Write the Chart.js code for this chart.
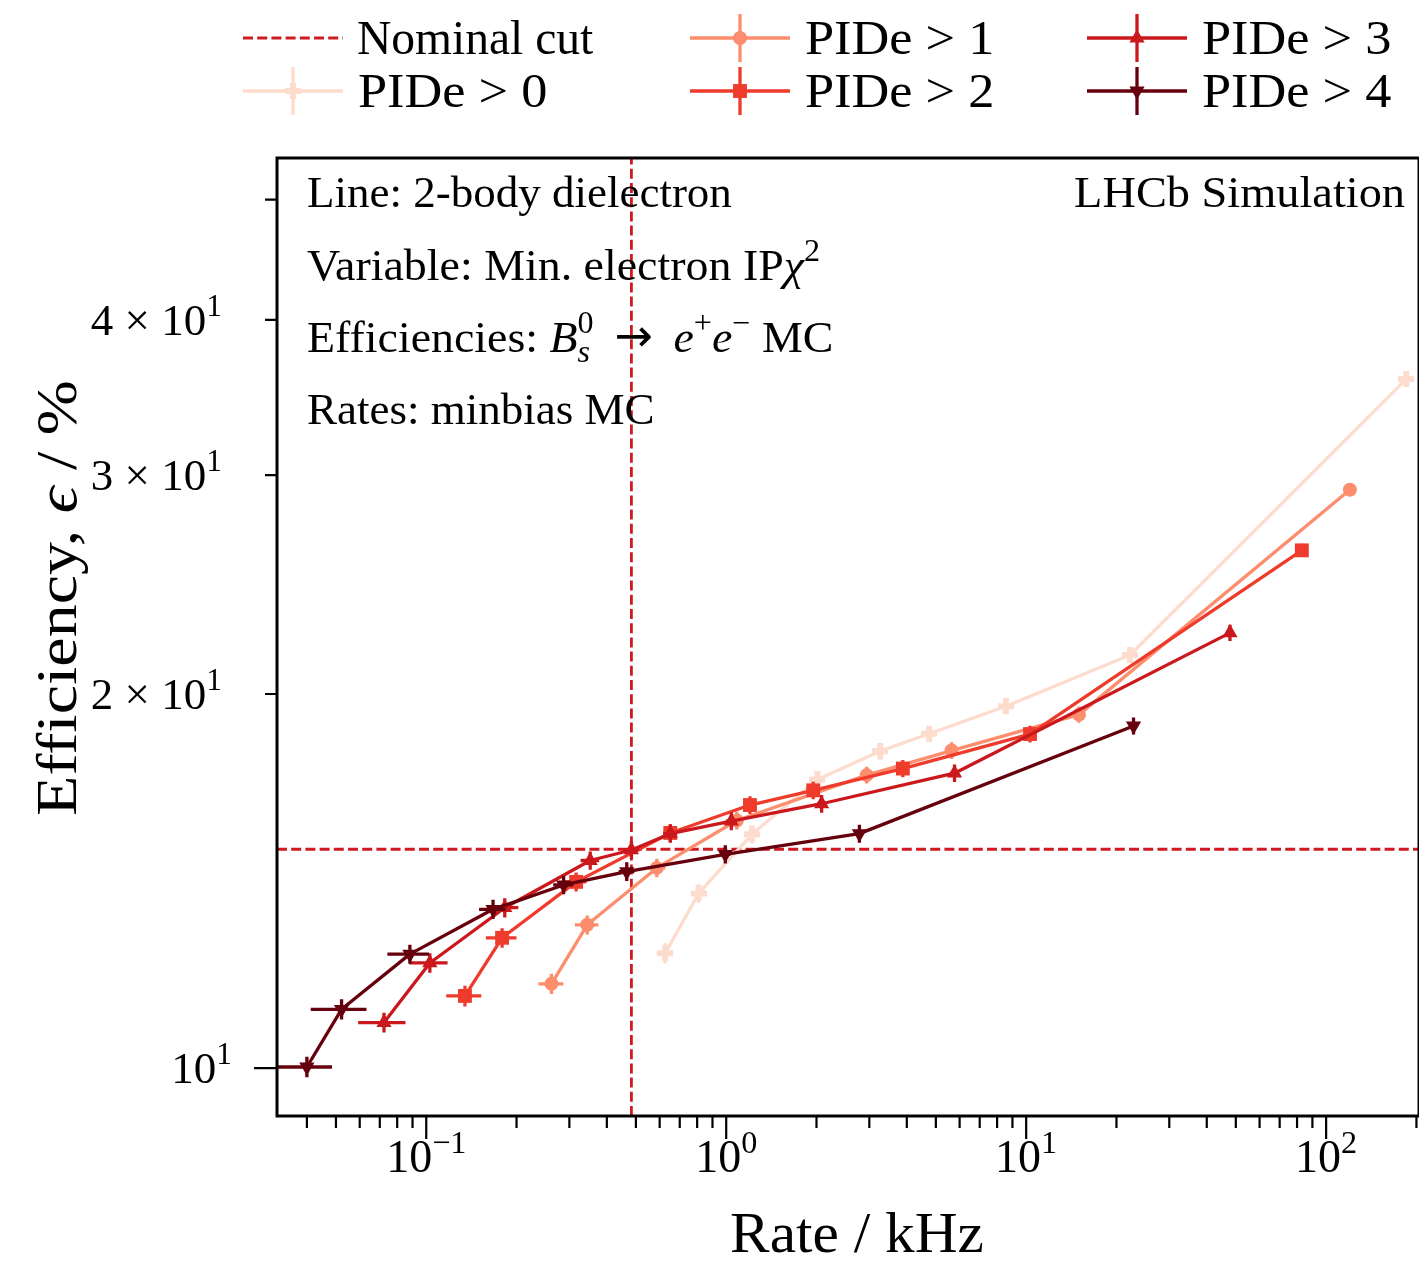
<!DOCTYPE html>
<html>
<head>
<title>Rate vs efficiency - 2-body dielectron</title>
<script src="https://cdn.jsdelivr.net/npm/chart.js"></script>
<style>
  body { margin: 0; background: #fff; }
  #wrap { width: 1419px; height: 1266px; }
</style>
</head>
<body>
<div id="wrap"><canvas id="myChart" width="1419" height="1266"></canvas></div>
<script>
// rates in kHz, efficiencies in %
const pid0Rate    = [0.626, 0.809, 1.218, 2.015, 3.26, 4.75, 8.56, 22.2, 185];
const pid0Eff     = [12.37, 13.82, 15.42, 17.07, 17.99, 18.58, 19.55, 21.5, 35.85];
const pid0RateErr = [0.04, 0.045, 0.05, 0.06, 0.07, 0.09, 0.12, 0.2, 0.6];
const pid0EffErr  = [0.23, 0.24, 0.26, 0.27, 0.28, 0.28, 0.29, 0.3, 0.35];

const pid1Rate    = [0.2615, 0.344, 0.587, 1.085, 2.94, 5.64, 15.0, 120];
const pid1Eff     = [11.69, 13.04, 14.49, 15.82, 17.21, 18.01, 19.25, 29.2];
const pid1RateErr = [0.025, 0.031, 0.04, 0.05, 0.07, 0.1, 0.16, 0.5];
const pid1EffErr  = [0.22, 0.23, 0.25, 0.26, 0.27, 0.28, 0.29, 0.33];

const pid2Rate    = [0.1346, 0.179, 0.316, 0.651, 1.20, 1.95, 3.88, 10.3, 83];
const pid2Eff     = [11.43, 12.73, 14.12, 15.46, 16.28, 16.73, 17.42, 18.57, 26.1];
const pid2RateErr = [0.018, 0.021, 0.026, 0.034, 0.045, 0.06, 0.08, 0.13, 0.4];
const pid2EffErr  = [0.22, 0.23, 0.25, 0.26, 0.27, 0.27, 0.28, 0.29, 0.32];

const pid3Rate    = [0.0723, 0.1028, 0.1827, 0.352, 0.483, 0.651, 1.04, 2.08, 5.77, 47.8];
const pid3Eff     = [10.88, 12.15, 13.46, 14.69, 14.98, 15.44, 15.8, 16.32, 17.27, 22.4];
const pid3RateErr = [0.013, 0.015, 0.02, 0.025, 0.03, 0.034, 0.043, 0.06, 0.1, 0.3];
const pid3EffErr  = [0.2, 0.22, 0.24, 0.25, 0.25, 0.26, 0.26, 0.27, 0.28, 0.34];

const pid4Rate    = [0.040, 0.0522, 0.0882, 0.167, 0.287, 0.466, 0.993, 2.78, 22.8];
const pid4Eff     = [10.02, 11.15, 12.35, 13.42, 14.04, 14.39, 14.86, 15.44, 18.85];
const pid4RateErr = [0.0085, 0.011, 0.014, 0.017, 0.022, 0.028, 0.04, 0.07, 0.2];
const pid4EffErr  = [0.19, 0.21, 0.22, 0.24, 0.24, 0.25, 0.25, 0.26, 0.3];

const seriesLabels = ['PIDe > 0', 'PIDe > 1', 'PIDe > 2', 'PIDe > 3', 'PIDe > 4'];
const seriesColors = ['#fddccd', '#fc8d6d', '#ef3b2c', '#cb181d', '#67000d'];

// nominal working point
const nominalRate = 0.483;
const nominalEff = 15.0;

// axis ranges and ticks
const xMin = 0.0318, xMax = 204;
const yMin = 9.15, yMax = 54.0;
const xMajorTicks = [0.1, 1, 10, 100];
const xTickExponents = ['\u22121', '0', '1', '2'];
const yMajorTicks = [10];
const yLabelValues = [10, 20, 30, 40];
const yLabelMantissa = ['', '2', '3', '4'];

const FONT = '"Liberation Serif", "DejaVu Serif", serif';
const nomColor = '#cf1b20';

function plusMarker(color, size, arm) {
  const c = document.createElement('canvas');
  c.width = size; c.height = size;
  const g = c.getContext('2d');
  g.fillStyle = color;
  const a = (size - arm) / 2;
  g.fillRect(a, 0, arm, size);
  g.fillRect(0, a, size, arm);
  return c;
}
const plusImg = plusMarker(seriesColors[0], 16, 6);

const rates = [pid0Rate, pid1Rate, pid2Rate, pid3Rate, pid4Rate];
const effs = [pid0Eff, pid1Eff, pid2Eff, pid3Eff, pid4Eff];
const rateErrs = [pid0RateErr, pid1RateErr, pid2RateErr, pid3RateErr, pid4RateErr];
const effErrs = [pid0EffErr, pid1EffErr, pid2EffErr, pid3EffErr, pid4EffErr];
const markers = [
  { style: plusImg, radius: 8, rotation: 0 },
  { style: 'circle', radius: 7, rotation: 0 },
  { style: 'rect', radius: 9.8, rotation: 0 },
  { style: 'triangle', radius: 8.8, rotation: 0 },
  { style: 'triangle', radius: 8.8, rotation: 180 }
];

const datasets = seriesLabels.map((label, i) => ({
  label: label,
  data: rates[i].map((r, j) => ({ x: r, y: effs[i][j] })),
  xErr: rateErrs[i],
  yErr: effErrs[i],
  borderColor: seriesColors[i],
  backgroundColor: seriesColors[i],
  borderWidth: 3.3,
  borderJoinStyle: 'round',
  pointStyle: markers[i].style,
  pointRadius: markers[i].radius,
  pointRotation: markers[i].rotation,
  pointBorderWidth: 0,
  pointBackgroundColor: seriesColors[i],
  tension: 0,
  fill: false,
  order: seriesLabels.length - i
}));

function setFont(ctx, size, italic, family) {
  ctx.font = (italic ? 'italic ' : '') + size + 'px ' + (family || FONT);
}

// rich text: parts are {t, it, pos:'sup'|'sub', font} or stacked {stack, sup, sub, subIt}
function partWidth(ctx, p, size) {
  if (p.stack) {
    setFont(ctx, size * 0.7, false);
    const w1 = ctx.measureText(p.sup).width;
    setFont(ctx, size * 0.7, p.subIt);
    return Math.max(w1, ctx.measureText(p.sub).width);
  }
  setFont(ctx, p.pos ? size * 0.7 : size, p.it, p.font);
  return ctx.measureText(p.t).width;
}

function drawRich(ctx, parts, x, y, size, align, stretch) {
  const f = stretch || 1;
  const natural = parts.reduce((a, p) => a + partWidth(ctx, p, size), 0);
  const total = natural * f;
  const x0 = align === 'right' ? x - total : align === 'center' ? x - total / 2 : x;
  ctx.save();
  ctx.translate(x0, y);
  ctx.scale(f, 1);
  ctx.textAlign = 'left';
  ctx.textBaseline = 'alphabetic';
  let cx = 0;
  for (const p of parts) {
    const w = partWidth(ctx, p, size);
    if (p.stack) {
      setFont(ctx, size * 0.7, false);
      ctx.fillText(p.sup, cx, -size * 0.42);
      setFont(ctx, size * 0.7, p.subIt);
      ctx.fillText(p.sub, cx, size * 0.22);
    } else {
      setFont(ctx, p.pos ? size * 0.7 : size, p.it, p.font);
      const dy = p.pos === 'sup' ? -size * 0.42 : p.pos === 'sub' ? size * 0.2 : (p.dy || 0);
      ctx.fillText(p.t, cx, dy);
    }
    cx += w;
  }
  ctx.restore();
  return total;
}

function drawMarker(ctx, m, x, y, color) {
  if (typeof m.style !== 'string') {
    ctx.drawImage(m.style, x - m.style.width / 2, y - m.style.height / 2);
    return;
  }
  ctx.fillStyle = color;
  ctx.beginPath();
  if (m.style === 'circle') {
    ctx.arc(x, y, m.radius, 0, Math.PI * 2);
  } else if (m.style === 'rect') {
    const h = m.radius * Math.SQRT1_2;
    ctx.rect(x - h, y - h, 2 * h, 2 * h);
  } else {
    const r = m.radius, s = m.rotation ? -1 : 1;
    ctx.moveTo(x, y - s * r);
    ctx.lineTo(x + r * 0.866, y + s * r * 0.5);
    ctx.lineTo(x - r * 0.866, y + s * r * 0.5);
    ctx.closePath();
  }
  ctx.fill();
}

const errorBars = {
  id: 'errorBars',
  beforeDatasetDraw(chart, args) {
    const ds = chart.data.datasets[args.index];
    const xs = chart.scales.x, ys = chart.scales.y, a = chart.chartArea;
    const ctx = chart.ctx;
    ctx.save();
    ctx.beginPath();
    ctx.rect(a.left, a.top, a.right - a.left, a.bottom - a.top);
    ctx.clip();
    ctx.strokeStyle = ds.borderColor;
    ctx.lineWidth = 3.3;
    ds.data.forEach((p, j) => {
      const px = xs.getPixelForValue(p.x), py = ys.getPixelForValue(p.y);
      ctx.beginPath();
      ctx.moveTo(xs.getPixelForValue(p.x - ds.xErr[j]), py);
      ctx.lineTo(xs.getPixelForValue(p.x + ds.xErr[j]), py);
      ctx.moveTo(px, ys.getPixelForValue(p.y - ds.yErr[j]));
      ctx.lineTo(px, ys.getPixelForValue(p.y + ds.yErr[j]));
      ctx.stroke();
    });
    ctx.restore();
  }
};

const nominalLines = {
  id: 'nominalLines',
  beforeDatasetsDraw(chart) {
    const xs = chart.scales.x, ys = chart.scales.y, a = chart.chartArea;
    const ctx = chart.ctx;
    ctx.save();
    ctx.strokeStyle = nomColor;
    ctx.lineWidth = 2.8;
    ctx.setLineDash([10, 4.2]);
    const vx = xs.getPixelForValue(nominalRate);
    const hy = ys.getPixelForValue(nominalEff);
    ctx.beginPath();
    ctx.moveTo(vx, a.bottom); ctx.lineTo(vx, a.top);
    ctx.moveTo(a.left, hy); ctx.lineTo(a.right, hy);
    ctx.stroke();
    ctx.restore();
  }
};

const frameAndText = {
  id: 'frameAndText',
  afterDraw(chart) {
    const xs = chart.scales.x, ys = chart.scales.y, a = chart.chartArea;
    const ctx = chart.ctx;
    ctx.save();
    ctx.fillStyle = '#000';
    ctx.strokeStyle = '#000';

    // ticks
    ctx.lineWidth = 2.2;
    const xMinor = [], yMinor = [];
    for (let d = -2; d <= 2; d++) {
      for (let m = 2; m <= 9; m++) {
        const v = m * Math.pow(10, d);
        if (v >= xMin && v <= xMax) xMinor.push(v);
        if (v >= yMin && v <= yMax) yMinor.push(v);
      }
    }
    ctx.beginPath();
    xMinor.forEach(v => { const px = xs.getPixelForValue(v); ctx.moveTo(px, a.bottom); ctx.lineTo(px, a.bottom + 12); });
    xMajorTicks.forEach(v => { const px = xs.getPixelForValue(v); ctx.moveTo(px, a.bottom); ctx.lineTo(px, a.bottom + 23); });
    yMinor.forEach(v => { const py = ys.getPixelForValue(v); ctx.moveTo(a.left, py); ctx.lineTo(a.left - 12, py); });
    yMajorTicks.forEach(v => { const py = ys.getPixelForValue(v); ctx.moveTo(a.left, py); ctx.lineTo(a.left - 23, py); });
    ctx.stroke();

    // frame
    ctx.lineWidth = 3;
    ctx.strokeRect(a.left, a.top, a.right - a.left, a.bottom - a.top);

    // tick labels
    xMajorTicks.forEach((v, i) => {
      drawRich(ctx, [{ t: '10' }, { t: xTickExponents[i], pos: 'sup' }], xs.getPixelForValue(v), a.bottom + 56, 46, 'center');
    });
    yLabelValues.forEach((v, i) => {
      const py = ys.getPixelForValue(v) + 15;
      if (yLabelMantissa[i]) {
        drawRich(ctx, [{ t: yLabelMantissa[i] + ' \u00d7 10' }, { t: '1', pos: 'sup' }], a.left - 55, py, 45, 'right');
      } else {
        drawRich(ctx, [{ t: '10' }, { t: '1', pos: 'sup' }], a.left - 45, py, 45, 'right');
      }
    });

    // axis titles
    drawRich(ctx, [{ t: 'Rate / kHz' }], (a.left + a.right) / 2 + 9, 1252, 56, 'center', 1.06);
    ctx.save();
    ctx.translate(76, 598);
    ctx.rotate(-Math.PI / 2);
    drawRich(ctx, [{ t: 'Efficiency, ' }, { t: '\u03f5', it: true }, { t: ' / %' }], 0, 0, 56, 'center', 1.18);
    ctx.restore();

    // annotations
    const tx = a.left + 30;
    drawRich(ctx, [{ t: 'Line: 2-body dielectron' }], tx, 207, 45, 'left');
    drawRich(ctx, [{ t: 'Variable: Min. electron IP' }, { t: '\u03c7', it: true }, { t: '2', pos: 'sup' }], tx, 280, 45, 'left', 1.02);
    drawRich(ctx, [{ t: 'Efficiencies: ' }, { t: 'B', it: true }, { stack: true, sup: '0', sub: 's', subIt: true },
      { t: ' \u2009' }, { t: '\u2192', font: '"DejaVu Sans", sans-serif', dy: -1 }, { t: ' \u2009' },
      { t: 'e', it: true }, { t: '+', pos: 'sup' }, { t: 'e', it: true }, { t: '\u2212', pos: 'sup' }, { t: ' MC' }], tx, 352, 45, 'left', 1.02);
    drawRich(ctx, [{ t: 'Rates: minbias MC' }], tx, 424, 45, 'left');
    drawRich(ctx, [{ t: 'LHCb Simulation' }], a.right - 14, 207, 45, 'right', 1.03);

    // legend
    const cols = [243, 690, 1087];
    const rows = [38, 91];
    const entries = [
      { col: 0, row: 0, nominal: true, label: 'Nominal cut' },
      { col: 1, row: 0, s: 1 }, { col: 2, row: 0, s: 3 },
      { col: 0, row: 1, s: 0 }, { col: 1, row: 1, s: 2 }, { col: 2, row: 1, s: 4 }
    ];
    entries.forEach(e => {
      const x0 = cols[e.col], y0 = rows[e.row];
      if (e.nominal) {
        ctx.strokeStyle = nomColor;
        ctx.lineWidth = 2.8;
        ctx.setLineDash([10, 4.2]);
        ctx.beginPath(); ctx.moveTo(x0, y0); ctx.lineTo(x0 + 100, y0); ctx.stroke();
        ctx.setLineDash([]);
      } else {
        const c = seriesColors[e.s];
        ctx.strokeStyle = c;
        ctx.lineWidth = 3.3;
        ctx.beginPath();
        ctx.moveTo(x0, y0); ctx.lineTo(x0 + 100, y0);
        ctx.moveTo(x0 + 50, y0 - 24); ctx.lineTo(x0 + 50, y0 + 24);
        ctx.stroke();
        drawMarker(ctx, markers[e.s], x0 + 50, y0, c);
      }
      ctx.fillStyle = '#000';
      if (e.nominal) {
        drawRich(ctx, [{ t: e.label }], x0 + 114, y0 + 16, 48, 'left', 0.99);
      } else {
        drawRich(ctx, [{ t: seriesLabels[e.s] }], x0 + 115, y0 + 16, 48, 'left', 1.09);
      }
    });
    ctx.restore();
  }
};

const ctx = document.getElementById('myChart').getContext('2d');
const chart = new Chart(ctx, {
  type: 'line',
  data: { datasets: datasets },
  options: {
    responsive: false,
    animation: false,
    devicePixelRatio: 1,
    layout: { autoPadding: false, padding: { left: 277, top: 158, right: 0, bottom: 150 } },
    plugins: { legend: { display: false }, tooltip: { enabled: false } },
    events: [],
    scales: {
      x: { type: 'logarithmic', min: xMin, max: xMax, display: false },
      y: { type: 'logarithmic', min: yMin, max: yMax, display: false }
    }
  },
  plugins: [nominalLines, errorBars, frameAndText]
});
</script>
</body>
</html>
